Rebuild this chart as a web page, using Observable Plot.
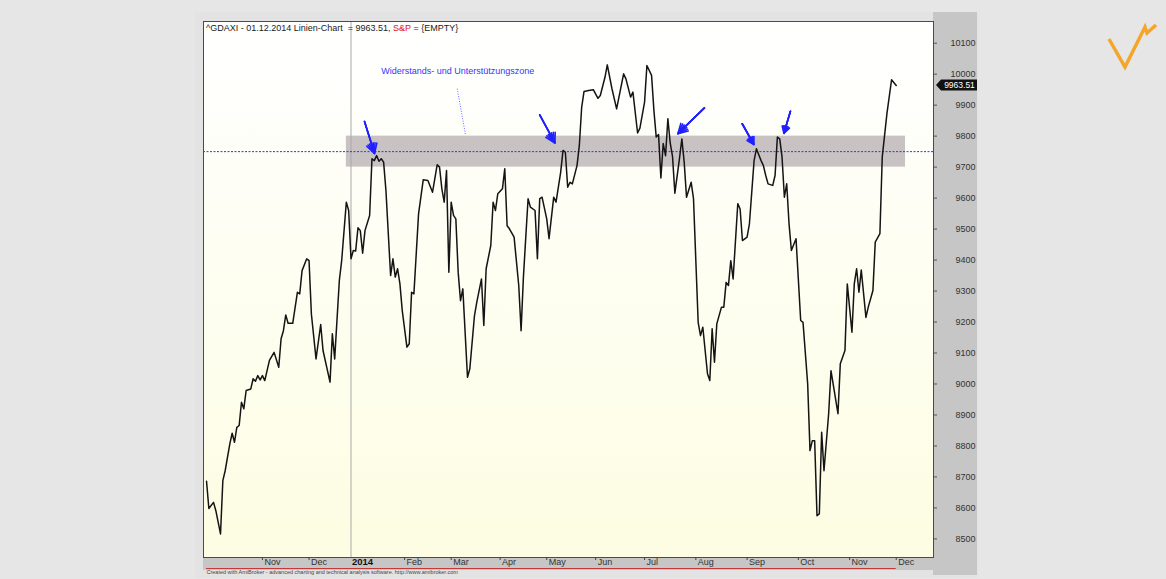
<!DOCTYPE html>
<html>
<head>
<meta charset="utf-8">
<script src="https://cdn.jsdelivr.net/npm/d3@7"></script>
<script src="https://cdn.jsdelivr.net/npm/@observablehq/plot@0.6"></script>
<style>
html,body{margin:0;padding:0;background:#e6e6e6;width:1166px;height:579px;overflow:hidden;font-family:"Liberation Sans",Arial,sans-serif;}
#wrap{position:relative;width:1166px;height:579px;}
.bg{position:absolute;}
#chart{position:absolute;left:0;top:0;}
#logo{position:absolute;left:1100px;top:15px;}
</style>
</head>
<body>
<div id="wrap">
  <div class="bg" style="left:195px;top:12px;width:783px;height:566px;background:#e3e3e3;"></div>
  <div class="bg" style="left:933px;top:12px;width:44px;height:563px;background:#c6c6c6;"></div>
  <div class="bg" style="left:203px;top:557px;width:730px;height:13px;background:#c6c6c6;"></div>
  <div class="bg" style="left:203px;top:21px;width:730px;height:536px;background:linear-gradient(#ffffff,#fdfde3);"></div>
  <div id="chart"></div>
  <svg id="logo" width="62" height="60"><polyline points="9,24 25,52 45,12 47,18 56,10" fill="none" stroke="#f5a52a" stroke-width="3.5" stroke-linejoin="miter"/></svg>
</div>
<script>
// trading-day index (bar number) and closing values of the DAX
const bars = [0,1,3,4,6,7,8,10,11,12,13,14,15,16,17,19,20,21,22,23,24,25,27,29,31,32,33,34,35,37,39,40,41,43,44,45,47,49,50,53,54,55,57,58,60,61,62,63,64,65,66,67,68,70,71,72,73,74,75,76,77,79,80,81,82,83,84,86,87,88,89,91,93,95,97,99,100,101,102,103,104,105,106,107,108,109,110,112,113,115,116,118,119,120,122,123,124,125,127,128,129,130,132,134,135,136,138,139,141,142,143,144,146,147,149,150,152,153,154,155,156,157,159,160,161,162,164,166,168,169,171,172,174,176,179,180,182,183,185,186,188,189,191,192,193,194,195,196,197,198,199,200,201,203,204,205,206,208,209,210,211,212,213,215,216,217,218,219,221,222,223,224,225,226,228,229,230,232,233,235,236,238,239,240,241,243,244,245,246,247,248,249,250,251,253,255,256,258,259,260,261,262,263,264,265,267,268,271,272,274,275,277,278,279,280,281,283,284,286,287,289,290,292,294,296];
const closes = [8686,8598,8618,8591,8516,8688,8720,8807,8841,8812,8860,8866,8941,8920,8979,8984,9017,9009,9027,9013,9027,9011,9076,9102,9054,9146,9172,9223,9196,9196,9296,9291,9366,9404,9398,9226,9081,9192,9108,9006,9162,9081,9334,9398,9587,9560,9404,9431,9429,9504,9495,9422,9495,9544,9727,9721,9737,9719,9727,9716,9624,9350,9404,9345,9372,9323,9237,9119,9130,9296,9291,9549,9659,9657,9619,9708,9700,9630,9587,9689,9361,9587,9544,9533,9361,9269,9307,9022,9049,9221,9264,9339,9189,9372,9447,9587,9560,9614,9630,9695,9511,9501,9474,9318,9172,9345,9598,9571,9560,9404,9598,9603,9533,9469,9603,9587,9684,9754,9748,9635,9651,9646,9705,9770,9893,9944,9947,9950,9922,9931,9990,10030,9953,9888,10001,9985,9926,9942,9810,9826,9910,10028,9996,9883,9797,9805,9665,9776,9737,9856,9778,9734,9616,9729,9791,9716,9603,9651,9598,9398,9199,9156,9183,9033,9011,9178,9070,9194,9248,9248,9328,9318,9398,9339,9582,9565,9463,9474,9517,9721,9759,9721,9705,9673,9646,9641,9673,9797,9791,9732,9603,9646,9517,9431,9469,9205,9199,9000,8785,8817,8817,8575,8581,8844,8720,8904,9043,8904,9065,9108,9323,9167,9323,9372,9296,9368,9215,9248,9302,9458,9485,9732,9872,9982,9963.51];

// x axis: bar of first trading day of each month, and its label
const monthBars = [24,44,62,85,105,126,146,167,188,210,232,254,276,296];
const monthLabels = ["Nov","Dec","2014","Feb","Mar","Apr","May","Jun","Jul","Aug","Sep","Oct","Nov","Dec"];
const yearBar = 62;

// y axis ticks
const yTicks = [8500,8600,8700,8800,8900,9000,9100,9200,9300,9400,9500,9600,9700,9800,9900,10000,10100];

// resistance / support zone
const zoneBars = [60, 300];
const zoneValues = [9700, 9800];
const zoneLine = 9750;
const zoneLabel = "Widerstands- und Unterstützungszone";
const zoneLabelAt = [75, 10009];
const leaderFrom = [107.6, 9953];
const leaderTo = [111.2, 9802];

// arrows (start bar, start value, tip bar, tip value)
const arrowStartBars = [67.8, 143.0, 213.7, 229.9, 250.6];
const arrowStartValues = [9847, 9869, 9891, 9840, 9880];
const arrowTipBars = [72.1, 149.5, 202.3, 234.9, 247.8];
const arrowTipValues = [9744, 9778, 9808, 9773, 9809];

const titleText = "^GDAXI - 01.12.2014 Linien-Chart  = 9963.51, ";
const titleRed = "S&P";
const titleTail = " = {EMPTY}";
const captionText = "Created with AmiBroker - advanced charting and technical analysis software. http://www.amibroker.com";

const series = bars.map((b, i) => ({bar: b, close: closes[i]}));
const months = monthBars.map((b, i) => ({bar: b, label: monthLabels[i]}));
const arrows = arrowStartBars.map((b, i) => ({x1: b, y1: arrowStartValues[i], x2: arrowTipBars[i], y2: arrowTipValues[i]}));
const lastClose = closes[closes.length - 1];
const font = "Liberation Sans, Arial, sans-serif";
const blue = "#2020ff";

const arrowMark = (angle) => Plot.arrow(arrows, {x1: "x1", y1: "y1", x2: "x2", y2: "y2", stroke: blue, strokeWidth: 1.6, headLength: 10, headAngle: angle});

const chart = Plot.plot({
  width: 1166,
  height: 579,
  marginLeft: 203,
  marginRight: 233,
  marginTop: 21,
  marginBottom: 22,
  style: {background: "transparent", fontFamily: font},
  x: {type: "linear", domain: [-1.3, 312]},
  y: {type: "linear", domain: [8440, 10170]},
  marks: [
    Plot.rect([0], {x1: zoneBars[0], x2: zoneBars[1], y1: zoneValues[0], y2: zoneValues[1], fill: "#c9c2c3"}),
    Plot.ruleX([yearBar], {stroke: "#a8a8a8", strokeWidth: 1}),
    Plot.ruleY([zoneLine], {stroke: "#3030ff", strokeWidth: 1, strokeDasharray: "2,1.5"}),
    Plot.link([0], {x1: leaderFrom[0], y1: leaderFrom[1], x2: leaderTo[0], y2: leaderTo[1], stroke: "#6a6aff", strokeWidth: 1, strokeDasharray: "1,1.5"}),
    Plot.text([zoneLabel], {x: zoneLabelAt[0], y: zoneLabelAt[1], text: d => d, textAnchor: "start", fill: "#3535ff", fontSize: 9}),
    Plot.line(series, {x: "bar", y: "close", stroke: "#141414", strokeWidth: 1.5, strokeLinejoin: "round"}),
    arrowMark(60), arrowMark(40), arrowMark(20),
    Plot.frame({stroke: "#4a4a4a", strokeWidth: 1}),
    Plot.axisY({anchor: "right", ticks: yTicks, tickSize: 3, tickFormat: () => "", label: null, stroke: "#555"}),
    Plot.text(yTicks, {y: d => d, text: d => String(d), frameAnchor: "right", dx: 42, textAnchor: "end", fontSize: 9, fill: "#333"}),
    Plot.axisX({anchor: "bottom", ticks: monthBars.filter(b => b !== yearBar), tickSize: 3, tickFormat: () => "", label: null, stroke: "#444"}),
    Plot.text(months.filter(d => d.bar !== yearBar), {x: "bar", text: "label", frameAnchor: "bottom", dy: 7, dx: 2, textAnchor: "start", fontSize: 9, fill: "#333"}),
    Plot.text(months.filter(d => d.bar === yearBar), {x: "bar", text: "label", frameAnchor: "bottom", dy: 7, dx: 1, textAnchor: "start", fontSize: 9.5, fontWeight: "bold", fill: "#111"}),
    Plot.ruleY([8440], {x1: bars[0], x2: bars[bars.length - 1], dy: 11, stroke: "#c43a3a", strokeWidth: 1}),
    Plot.text([captionText], {frameAnchor: "bottom-left", dy: 16, dx: 3, text: d => d, textAnchor: "start", fontSize: 5.5, fill: "#444"}),
    (index, scales, values, dims) => {
      const t = d3.create("svg:text")
        .attr("x", dims.marginLeft + 3)
        .attr("y", dims.marginTop + 9.5)
        .attr("font-size", 9)
        .attr("text-anchor", "start")
        .attr("fill", "#222")
        .attr("xml:space", "preserve");
      t.append("tspan").text(titleText);
      t.append("tspan").attr("fill", "#e01010").text(titleRed);
      t.append("tspan").text(titleTail);
      return t.node();
    },
    (index, scales, values, dims) => {
      const y = scales.y(lastClose);
      const x0 = dims.width - dims.marginRight + 3;
      const g = d3.create("svg:g");
      g.append("path").attr("d", `M${x0},${y}l5,-5.5h36v11h-36z`).attr("fill", "#111");
      g.append("text").attr("x", x0 + 23.5).attr("y", y).attr("dy", "0.35em")
        .attr("text-anchor", "middle").attr("fill", "#fff").attr("font-size", 8.5)
        .text(lastClose.toFixed(2));
      return g.node();
    }
  ]
});
document.getElementById("chart").appendChild(chart);
</script>
</body>
</html>
